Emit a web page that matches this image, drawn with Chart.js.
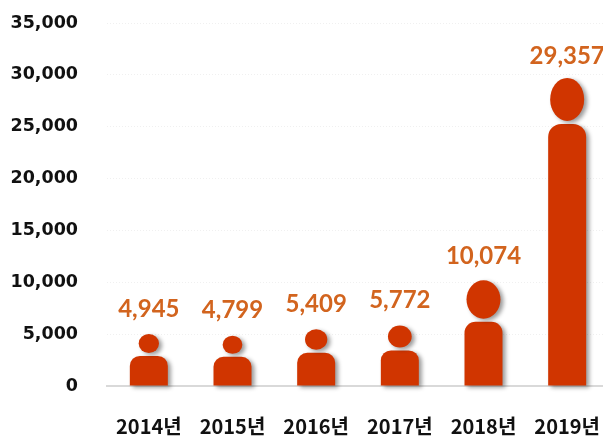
<!DOCTYPE html>
<html>
<head>
<meta charset="utf-8">
<script src="https://cdn.jsdelivr.net/npm/chart.js@4/dist/chart.umd.min.js"></script>
<style>
html, body { margin: 0; padding: 0; background: #fff; overflow: hidden; }
canvas { display: block; }
</style>
</head>
<body>
<canvas id="chart" width="609" height="441"></canvas>
<script>
let years = ['2014년', '2015년', '2016년', '2017년', '2018년', '2019년'];
let people = [4945, 4799, 5409, 5772, 10074, 29357];
let yTicks = [0, 5000, 10000, 15000, 20000, 25000, 30000, 35000];

const RED = '#d03500';
const ORANGE = '#d2641e';

// the bars stay invisible, each one is repainted as a person standing on its base
let personPlugin = {
    id: 'person',
    afterDatasetsDraw(chart) {
        let ctx = chart.ctx;
        chart.getDatasetMeta(0).data.forEach((bar, i) => {
            let h = bar.base - bar.y;
            let headW = Math.min(h * 0.4, 34);
            let headH = Math.min(h * 0.37, 43);
            let headTop = bar.y - h * 0.012;
            let bodyTop = headTop + headH + 3;
            let r = Math.min(13, 9 + h * 0.02);
            ctx.save();
            ctx.shadowColor = 'rgba(0,0,0,0.4)';
            ctx.shadowBlur = 4;
            ctx.shadowOffsetX = 3;
            ctx.shadowOffsetY = 2;
            ctx.fillStyle = RED;
            ctx.beginPath();
            ctx.roundRect(bar.x - bar.width / 2, bodyTop, bar.width, bar.base - bodyTop, [r, r, 0, 0]);
            ctx.fill();
            ctx.beginPath();
            ctx.ellipse(bar.x, headTop + headH / 2, headW / 2, headH / 2, 0, 0, Math.PI * 2);
            ctx.fill();
            ctx.restore();

            ctx.save();
            ctx.fillStyle = ORANGE;
            ctx.font = 'bold 24px Lato';
            ctx.textAlign = 'center';
            ctx.textBaseline = 'middle';
            ctx.fillText(people[i].toLocaleString('en-US'), bar.x, bar.y - 25.5);
            ctx.restore();
        });
    }
};

// tick padding would otherwise be added to the plot margins
function noMargins(scale) {
    scale.paddingLeft = 0;
    scale.paddingRight = 0;
    scale.paddingTop = 0;
    scale.paddingBottom = 0;
}

let ctx = document.getElementById('chart').getContext('2d');
let myChart = new Chart(ctx, {
    type: 'bar',
    data: {
        labels: years,
        datasets: [{
            label: 'people',
            data: people,
            backgroundColor: 'rgba(0,0,0,0)',
            barThickness: 38
        }]
    },
    options: {
        responsive: false,
        animation: false,
        layout: { padding: { top: 23, right: 0, bottom: 0, left: 0 } },
        plugins: {
            legend: { display: false },
            tooltip: { enabled: false }
        },
        scales: {
            x: {
                grid: { display: false, drawTicks: false },
                border: { color: '#d9d9d9', width: 2 },
                afterFit(scale) { scale.height = 55; noMargins(scale); },
                ticks: {
                    color: '#111111',
                    padding: 28,
                    maxRotation: 0,
                    autoSkip: false,
                    font: { family: '"Noto Sans CJK KR"', size: 20, weight: 'bold' }
                }
            },
            y: {
                min: 0,
                max: 35000,
                afterFit(scale) { scale.width = 107; noMargins(scale); },
                afterBuildTicks(scale) { scale.ticks = yTicks.map(v => ({ value: v })); },
                grid: { color: '#f0f0f0', drawTicks: false },
                border: { display: false, dash: [1, 2] },
                ticks: {
                    color: '#111111',
                    padding: 29,
                    font: { family: '"DejaVu Sans"', size: 17.5, weight: 'bold' },
                    callback: v => v.toLocaleString('en-US')
                }
            }
        }
    },
    plugins: [personPlugin]
});
</script>
</body>
</html>
